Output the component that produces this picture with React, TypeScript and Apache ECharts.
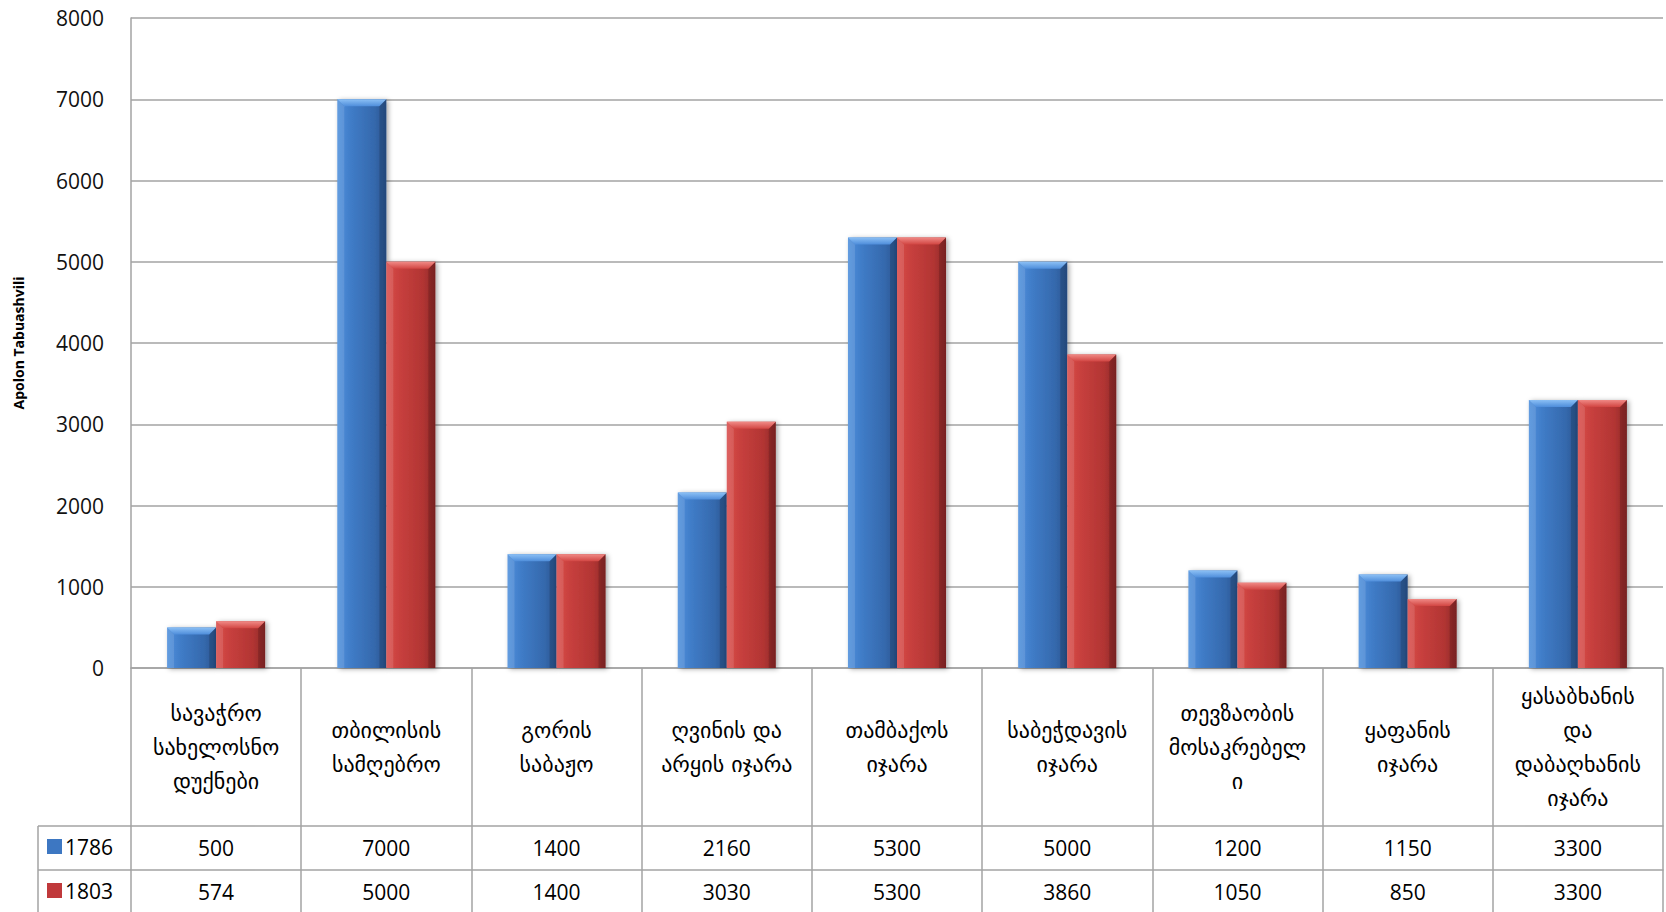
import React, { useEffect, useRef } from "react";
import * as echarts from "echarts";

const categories = [
  "სავაჭრო\nსახელოსნო\nდუქნები",
  "თბილისის\nსამღებრო",
  "გორის\nსაბაჟო",
  "ღვინის და\nარყის იჯარა",
  "თამბაქოს\nიჯარა",
  "საბეჭდავის\nიჯარა",
  "თევზაობის\nმოსაკრებელ\nი",
  "ყაფანის\nიჯარა",
  "ყასაბხანის\nდა\nდაბაღხანის\nიჯარა",
];
const years = ["1786", "1803"];
const values1786 = [500, 7000, 1400, 2160, 5300, 5000, 1200, 1150, 3300];
const values1803 = [574, 5000, 1400, 3030, 5300, 3860, 1050, 850, 3300];
const yMin = 0;
const yMax = 8000;
const yStep = 1000;
const yAxisTitle = "Apolon Tabuashvili";

const GEO_FONT = "'DejaVu Sans', 'Noto Sans', sans-serif";
const NUM_FONT = "'Open Sans', 'DejaVu Sans', sans-serif";
const LINE = "#a3a3a3";

type Palette = { body: string[]; top: string[]; solid: any };
const bluePal: Palette = {
  body: ["#4e8fdc", "#3f7bc6", "#3569ad", "#2a5590"],
  top: ["#8cc0f5", "#4f8edb"],
  solid: "#3d77c2",
};
const redPal: Palette = {
  body: ["#d94c49", "#c63f3d", "#b23533", "#8c2727"],
  top: ["#f08a86", "#d24643"],
  solid: "#c0393b",
};

function makeRenderItem(side: number, pal: Palette) {
  return (params: any, api: any) => {
    const idx = api.value(0);
    const val = api.value(1);
    const top = api.coord([idx, val]);
    const base = api.coord([idx, 0]);
    const catW = api.size([1, 0])[0];
    const bw = catW * 0.288;
    const x0 = side < 0 ? top[0] - bw : top[0];
    const x1 = x0 + bw;
    const y0 = top[1];
    const y1 = base[1];
    const b = Math.min(7, (y1 - y0) / 2);
    return {
      type: "group",
      children: [
        {
          type: "rect",
          shape: { x: x0, y: y0, width: bw, height: y1 - y0 },
          style: {
            fill: new echarts.graphic.LinearGradient(0, 0, 1, 0, [
              { offset: 0, color: pal.body[0] },
              { offset: 0.3, color: pal.body[1] },
              { offset: 0.75, color: pal.body[2] },
              { offset: 1, color: pal.body[3] },
            ]),
            shadowBlur: 5,
            shadowColor: "rgba(0,0,0,0.35)",
            shadowOffsetX: 2,
            shadowOffsetY: 1,
          },
        },
        {
          type: "polygon",
          shape: { points: [[x0, y0], [x0 + b, y0 + b], [x0 + b, y1], [x0, y1]] },
          style: { fill: "rgba(255,255,255,0.12)" },
        },
        {
          type: "polygon",
          shape: { points: [[x1, y0], [x1 - b, y0 + b], [x1 - b, y1], [x1, y1]] },
          style: { fill: "rgba(0,0,0,0.14)" },
        },
        {
          type: "polygon",
          shape: { points: [[x0, y0], [x1, y0], [x1 - b, y0 + b], [x0 + b, y0 + b]] },
          style: {
            fill: new echarts.graphic.LinearGradient(0, 0, 0, 1, [
              { offset: 0, color: pal.top[0] },
              { offset: 1, color: pal.top[1] },
            ]),
          },
        },
      ],
    };
  };
}

export default function App() {
  const ref = useRef<HTMLDivElement>(null);

  useEffect(() => {
    if (!ref.current) return;
    const chart = echarts.init(ref.current, null, { renderer: "svg" });

    const gridLeft = 131;
    const gridTop = 18;
    const gridBottom = 244;
    const catRowH = 158;
    const valRowH = 44;
    const axisY = 912 - gridBottom;

    const tableAxis = (
      offset: number,
      tickLen: number,
      margin: number,
      fmt: (v: string, i: number) => string,
      font: string,
      size: number,
      lineHeight?: number
    ) => ({
      type: "category",
      data: categories,
      gridIndex: 0,
      position: "bottom",
      offset,
      boundaryGap: true,
      axisLine: { show: true, lineStyle: { color: LINE, width: 1.5 } },
      axisTick: {
        show: true,
        interval: 0,
        alignWithLabel: false,
        length: tickLen,
        lineStyle: { color: LINE, width: 1.5 },
      },
      axisLabel: {
        interval: 0,
        margin,
        verticalAlign: "middle",
        align: "center",
        color: "#000",
        fontFamily: font,
        fontSize: size,
        lineHeight,
        formatter: fmt,
      },
      splitLine: { show: false },
    });

    const legendStyle = {
      left: 42,
      orient: "horizontal",
      icon: "rect",
      itemWidth: 15,
      itemHeight: 15,
      itemGap: 4,
      textStyle: { fontFamily: NUM_FONT, fontSize: 21, color: "#000", padding: [0, 0, 0, -2] },
    };

    chart.setOption({
      animation: false,
      backgroundColor: "#ffffff",
      grid: { left: gridLeft, right: 3, top: gridTop, bottom: gridBottom, containLabel: false },
      legend: [
        { ...legendStyle, data: [years[0]], top: axisY + catRowH + 5 },
        { ...legendStyle, data: [years[1]], top: axisY + catRowH + valRowH + 5 },
      ],
      xAxis: [
        tableAxis(0, catRowH, catRowH / 2, (v: string) => v, GEO_FONT, 22, 34),
        tableAxis(catRowH, valRowH, valRowH / 2, (_v: string, i: number) => String(values1786[i]), NUM_FONT, 21),
        tableAxis(catRowH + valRowH, valRowH, valRowH / 2, (_v: string, i: number) => String(values1803[i]), NUM_FONT, 21),
      ],
      yAxis: {
        type: "value",
        min: yMin,
        max: yMax,
        interval: yStep,
        name: yAxisTitle,
        nameLocation: "middle",
        nameGap: 106,
        nameTextStyle: { fontFamily: NUM_FONT, fontWeight: "bold", fontSize: 14, color: "#000" },
        axisLine: { show: true, lineStyle: { color: LINE, width: 1.5 } },
        axisTick: { show: false },
        axisLabel: {
          margin: 27,
          color: "#111",
          fontFamily: NUM_FONT,
          fontSize: 21,
          formatter: (v: number) => String(v),
        },
        splitLine: { show: true, lineStyle: { color: LINE, width: 1.5 } },
      },
      graphic: [
        { type: "line", shape: { x1: 38, y1: axisY + catRowH, x2: gridLeft, y2: axisY + catRowH }, style: { stroke: LINE, lineWidth: 1.5 } },
        { type: "line", shape: { x1: 38, y1: axisY + catRowH + valRowH, x2: gridLeft, y2: axisY + catRowH + valRowH }, style: { stroke: LINE, lineWidth: 1.5 } },
        { type: "line", shape: { x1: 38, y1: axisY + catRowH, x2: 38, y2: 912 }, style: { stroke: LINE, lineWidth: 1.5 } },
      ],
      series: [
        {
          name: years[0],
          type: "custom",
          xAxisIndex: 0,
          yAxisIndex: 0,
          itemStyle: { color: bluePal.solid },
          encode: { x: 0, y: 1 },
          data: values1786.map((v, i) => [i, v]),
          renderItem: makeRenderItem(-1, bluePal),
        },
        {
          name: years[1],
          type: "custom",
          xAxisIndex: 0,
          yAxisIndex: 0,
          itemStyle: { color: redPal.solid },
          encode: { x: 0, y: 1 },
          data: values1803.map((v, i) => [i, v]),
          renderItem: makeRenderItem(1, redPal),
        },
      ],
    });

    return () => chart.dispose();
  }, []);

  return (
    <div
      ref={ref}
      style={{ position: "fixed", left: 0, top: 0, width: 1666, height: 912, background: "#fff" }}
    />
  );
}
